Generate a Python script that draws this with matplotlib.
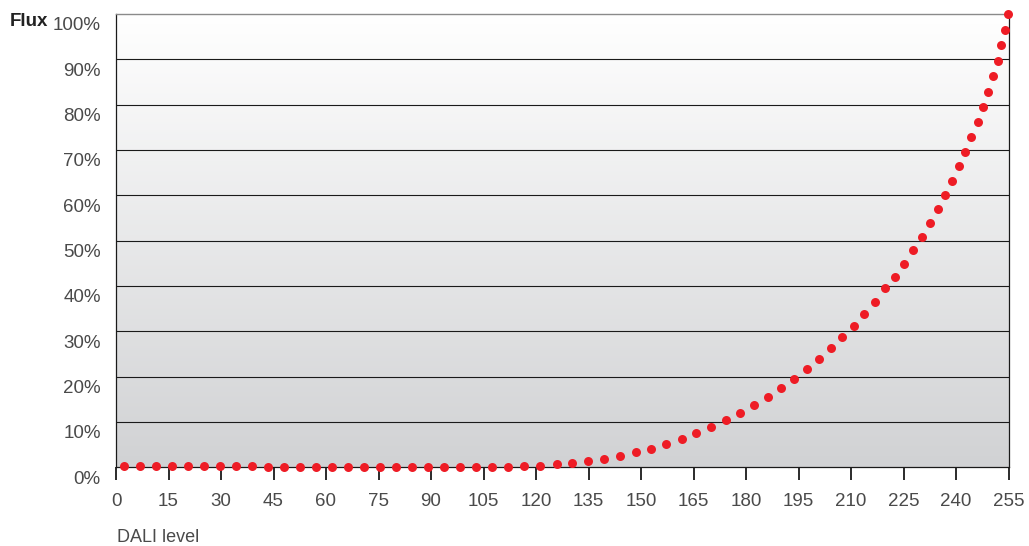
import matplotlib
matplotlib.use("Agg")
import matplotlib.pyplot as plt
import matplotlib.transforms as mtransforms
import numpy as np

DOT = "#EE1C25"
LABEL = "#4A4A4A"

# DALI level of each dot
dali_level = [
    2.3, 6.9, 11.4, 16.0, 20.6, 25.1, 29.7, 34.3, 38.9, 43.4, 48.0, 52.6,
    57.1, 61.7, 66.3, 70.9, 75.4, 80.0, 84.6, 89.1, 93.7, 98.3, 102.9,
    107.4, 112.0, 116.6, 121.1, 125.9, 130.4, 134.9, 139.5, 143.9, 148.5,
    152.9, 157.2, 161.6, 165.8, 170.0, 174.2, 178.3, 182.2, 186.2, 189.9,
    193.6, 197.3, 200.9, 204.2, 207.5, 210.8, 213.8, 216.8, 219.6, 222.5,
    225.1, 227.7, 230.2, 232.5, 234.8, 236.9, 238.9, 240.9, 242.7, 244.3,
    246.2, 247.7, 249.1, 250.6, 251.9, 252.9, 254.1, 254.9,
]
# relative flux in percent
flux = [
    0.25, 0.25, 0.25, 0.22, 0.22, 0.2, 0.2, 0.2, 0.18, 0.15, 0.15, 0.12,
    0.1, 0.1, 0.08, 0.05, 0.05, 0.03, 0.0, 0.0, 0.0, 0.0, 0.0,
    0.0, 0.13, 0.22, 0.35, 0.66, 0.95, 1.39, 1.83, 2.49, 3.31,
    4.10, 5.14, 6.24, 7.50, 8.96, 10.37, 11.98, 13.68, 15.57, 17.49,
    19.55, 21.69, 23.89, 26.25, 28.68, 31.17, 33.82, 36.47, 39.49, 42.05,
    44.91, 47.87, 50.80, 53.83, 56.92, 60.07, 63.23, 66.40, 69.62, 72.97,
    76.24, 79.48, 82.86, 86.26, 89.70, 93.16, 96.53, 100.0,
]
x_ticks = [0, 15, 30, 45, 60, 75, 90, 105, 120, 135, 150, 165, 180, 195, 210, 225, 240, 255]
y_ticks = [0, 10, 20, 30, 40, 50, 60, 70, 80, 90, 100]

plt.rcParams.update({"font.family": ["Liberation Sans", "DejaVu Sans"]})

fig = plt.figure(figsize=(10.29, 5.46), dpi=100)
ax = fig.add_axes([116 / 1029, 1 - 467.3 / 546, 892.5 / 1029, 453.3 / 546])

# vertical grey gradient behind the plot
grad = np.linspace(1.0, 0.0, 256).reshape(-1, 1)
top = np.array([1.0, 1.0, 1.0])
bottom = np.array([209, 210, 212]) / 255
img = top * (1 - grad[..., None]) + bottom * grad[..., None]
img = img[::-1]
ax.imshow(img, extent=[0, 1, 0, 1], transform=ax.transAxes, aspect="auto", zorder=0, interpolation="bilinear")

ax.set_xlim(0, 255)
ax.set_ylim(0, 100)

for yv in y_ticks[1:-1]:
    ax.axhline(yv, color="#1a1a1a", linewidth=0.8, zorder=1)

ax.scatter(dali_level, flux, s=42, color=DOT, linewidths=0, zorder=3, clip_on=False)

for side in ["left", "right", "bottom"]:
    ax.spines[side].set_color("#1a1a1a")
    ax.spines[side].set_linewidth(0.9)
ax.spines["top"].set_color("#8a8a8a")
ax.spines["top"].set_linewidth(1.0)

ax.set_xticks(x_ticks)
ax.set_xticklabels([str(v) for v in x_ticks])
ax.tick_params(axis="x", direction="out", length=9.5, width=1.3, color="#1a1a1a", pad=9,
               labelsize=13.5, labelcolor=LABEL)
ax.set_yticks(y_ticks)
ax.set_yticklabels([f"{v}%" for v in y_ticks])
ax.tick_params(axis="y", length=0, pad=11, labelsize=13.5, labelcolor=LABEL)

offset = mtransforms.ScaledTranslation(0, -0.10, fig.dpi_scale_trans)
for lab in ax.get_yticklabels():
    lab.set_transform(lab.get_transform() + offset)

fig.text(10 / 1029, 1 - 22 / 546, "Flux", fontsize=13.5, fontweight="bold", color="#222222",
         ha="left", va="center")
fig.text(117 / 1029, 1 - 538 / 546, "DALI level", fontsize=13, color=LABEL, ha="left", va="center")

fig.savefig("out.png", dpi=100)
